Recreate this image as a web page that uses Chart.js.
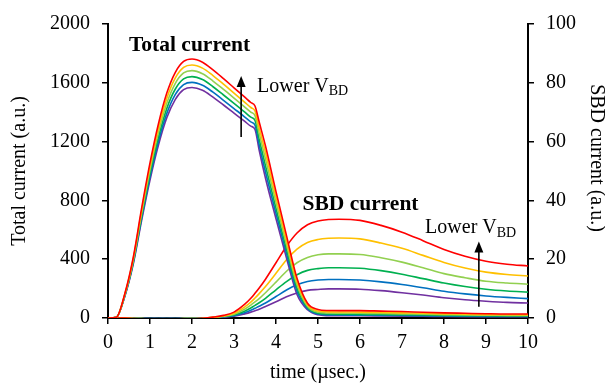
<!DOCTYPE html>
<html lang="en">
  <head>
    <meta charset="UTF-8" />
    <title>Total current and SBD current</title>
    <script src="https://cdn.jsdelivr.net/npm/chart.js"></script>
    <style>
      html,
      body {
        margin: 0;
        padding: 0;
        background: #fff;
      }
    </style>
  </head>
  <body>
    <canvas id="currentChart" width="605" height="385"></canvas>

    <script>
      // time axis (µsec.)
      const timeUs = [0, 0.2, 0.4, 0.6, 0.8, 1.0, 1.2, 1.4, 1.6, 1.8,
        2.0, 2.25, 2.5, 2.75, 3.0, 3.25, 3.4, 3.5, 3.6, 3.75,
        4.0, 4.25, 4.5, 4.75, 5.0, 5.25, 5.5,
        6, 6.5, 7, 7.5, 8, 8.5, 9, 9.5, 10];

      // total current (left axis), one curve per breakdown voltage, lowest V_BD first
      const totalRed = [0, 5, 165, 410, 745, 1055, 1320, 1530, 1670, 1745,
        1762, 1740, 1688, 1628, 1566, 1504, 1466, 1442, 1333, 1170,
        860, 560, 270, 100, 58, 51, 50,
        50, 47, 44, 39, 35, 32, 29, 27, 27];
      const totalYellow = [0, 5, 161, 401, 728, 1031, 1290, 1495, 1632, 1705,
        1721, 1700, 1649, 1591, 1530, 1469, 1432, 1409, 1293, 1125,
        822, 529, 248, 90, 48, 42, 41,
        40, 38, 35, 32, 28, 26, 23, 22, 21];
      const totalLtGreen = [0, 5, 158, 392, 712, 1008, 1261, 1461, 1595, 1667,
        1683, 1662, 1612, 1555, 1496, 1436, 1400, 1377, 1255, 1081,
        785, 499, 226, 80, 40, 34, 33,
        32, 31, 28, 26, 23, 20, 19, 18, 17];
      const totalGreen = [0, 5, 154, 382, 694, 983, 1230, 1426, 1556, 1626,
        1642, 1622, 1573, 1517, 1460, 1402, 1366, 1344, 1215, 1036,
        747, 468, 204, 72, 33, 27, 26,
        25, 24, 22, 20, 18, 16, 15, 14, 14];
      const totalBlue = [0, 5, 150, 373, 678, 960, 1201, 1392, 1520, 1588,
        1603, 1583, 1536, 1481, 1425, 1369, 1334, 1312, 1177, 993,
        711, 438, 182, 64, 27, 21, 20,
        19, 18, 17, 15, 14, 12, 11, 11, 10];
      const totalPurple = [0, 5, 147, 365, 663, 939, 1175, 1362, 1486, 1553,
        1568, 1549, 1502, 1449, 1394, 1339, 1305, 1283, 1141, 951,
        675, 408, 160, 56, 22, 16, 15,
        15, 14, 13, 12, 10, 9, 9, 8, 8];

      // SBD current (right axis)
      const sbdRed = [0, 0, 0, -0.2, -0.3, -0.4, -0.4, -0.4, -0.4, -0.3,
        -0.3, -0.1, 0.3, 0.9, 2.0, 4.6, 6.7, 8.4, 10.2, 13.2,
        18.8, 24.4, 28.9, 31.7, 33.0, 33.5, 33.6,
        33.2, 31.5, 29.2, 26.3, 23.3, 21.0, 19.3, 18.3, 17.7];
      const sbdYellow = [0, 0, 0, -0.2, -0.2, -0.3, -0.3, -0.3, -0.3, -0.2,
        -0.2, -0.1, 0.2, 0.7, 1.6, 3.7, 5.4, 6.8, 8.3, 10.7,
        15.2, 19.8, 23.4, 25.7, 26.7, 27.1, 27.2,
        26.9, 25.5, 23.7, 21.3, 18.9, 17.0, 15.6, 14.8, 14.3];
      const sbdLtGreen = [0, 0, 0, -0.1, -0.2, -0.3, -0.3, -0.3, -0.3, -0.2,
        -0.2, -0.1, 0.2, 0.6, 1.3, 3.0, 4.4, 5.5, 6.6, 8.6,
        12.2, 15.9, 18.8, 20.6, 21.5, 21.8, 21.8,
        21.6, 20.5, 19.0, 17.1, 15.1, 13.7, 12.5, 11.9, 11.5];
      const sbdGreen = [0, 0, 0, -0.1, -0.2, -0.2, -0.2, -0.2, -0.2, -0.2,
        -0.2, -0.1, 0.1, 0.5, 1.0, 2.3, 3.4, 4.3, 5.2, 6.7,
        9.6, 12.4, 14.7, 16.2, 16.8, 17.1, 17.1,
        16.9, 16.1, 14.9, 13.4, 11.9, 10.7, 9.8, 9.2, 8.8];
      const sbdBlue = [0, 0, 0, -0.1, -0.1, -0.2, -0.2, -0.2, -0.2, -0.1,
        -0.1, -0.1, 0.1, 0.4, 0.8, 1.8, 2.6, 3.3, 4.0, 5.1,
        7.3, 9.5, 11.3, 12.4, 12.9, 13.1, 13.1,
        12.9, 12.3, 11.4, 10.3, 9.1, 8.2, 7.5, 7.0, 6.6];
      const sbdPurple = [0, 0, 0, -0.1, -0.1, -0.1, -0.1, -0.1, -0.1, -0.1,
        -0.1, -0.1, 0, 0.3, 0.6, 1.4, 2.0, 2.5, 3.0, 3.9,
        5.5, 7.2, 8.5, 9.4, 9.7, 9.9, 9.9,
        9.8, 9.3, 8.6, 7.8, 6.9, 6.2, 5.7, 5.3, 5.1];

      const lineColors = ["#FF0000", "#FFC000", "#92D050", "#00B050", "#0070C0", "#7030A0"];
      const totalSeries = [totalRed, totalYellow, totalLtGreen, totalGreen, totalBlue, totalPurple];
      const sbdSeries = [sbdRed, sbdYellow, sbdLtGreen, sbdGreen, sbdBlue, sbdPurple];

      const serif = "'Liberation Serif', 'Times New Roman', serif";

      function makeDataset(values, color, axis) {
        return {
          data: timeUs.map((t, i) => ({ x: t, y: values[i] })),
          yAxisID: axis,
          borderColor: color,
          borderWidth: 1.6,
          pointRadius: 0,
          fill: false,
          cubicInterpolationMode: "monotone",
        };
      }

      const datasets = [
        ...totalSeries.map((v, i) => makeDataset(v, lineColors[i], "yTotal")),
        ...sbdSeries.map((v, i) => makeDataset(v, lineColors[i], "ySbd")),
      ];

      // "Lower V_BD" with subscript
      function lowerVbd(ctx, px, py) {
        ctx.font = "20px " + serif;
        ctx.fillText("Lower V", px, py);
        const w = ctx.measureText("Lower V").width;
        ctx.font = "14px " + serif;
        ctx.fillText("BD", px + w, py + 3.5);
      }

      function upArrow(ctx, px, yBottom, yTip) {
        ctx.beginPath();
        ctx.moveTo(px, yBottom);
        ctx.lineTo(px, yTip + 8);
        ctx.stroke();
        ctx.beginPath();
        ctx.moveTo(px, yTip);
        ctx.lineTo(px - 4.5, yTip + 11);
        ctx.lineTo(px + 4.5, yTip + 11);
        ctx.closePath();
        ctx.fill();
      }

      const annotations = {
        id: "annotations",
        afterDraw(chart) {
          const { ctx } = chart;
          const { x, yTotal, ySbd } = chart.scales;
          ctx.save();
          ctx.fillStyle = "#000";
          ctx.strokeStyle = "#000";
          ctx.lineWidth = 1.6;
          ctx.textBaseline = "alphabetic";
          ctx.textAlign = "left";

          ctx.font = "bold 21.5px " + serif;
          ctx.fillText("Total current", x.getPixelForValue(0.5), yTotal.getPixelForValue(1815));
          ctx.fillText("SBD current", x.getPixelForValue(4.63), ySbd.getPixelForValue(36.9));

          lowerVbd(ctx, x.getPixelForValue(3.55), yTotal.getPixelForValue(1538));
          lowerVbd(ctx, x.getPixelForValue(7.55), ySbd.getPixelForValue(28.8));

          upArrow(ctx, x.getPixelForValue(3.17), yTotal.getPixelForValue(1231), yTotal.getPixelForValue(1647));
          upArrow(ctx, x.getPixelForValue(8.83), ySbd.getPixelForValue(3.8), ySbd.getPixelForValue(26));

          // right axis title, reading downwards
          ctx.translate(596, 158);
          ctx.rotate(Math.PI / 2);
          ctx.textAlign = "center";
          ctx.textBaseline = "middle";
          ctx.font = "20px " + serif;
          ctx.fillText("SBD current (a.u.)", 0, 0);
          ctx.restore();
        },
      };

      const tickFont = { family: serif, size: 20 };
      const axisGrid = {
        drawOnChartArea: false,
        drawTicks: true,
        tickLength: 6,
        color: "#000",
        lineWidth: 1.5,
      };
      const axisBorder = { display: true, color: "#000", width: 2 };
      const plainNumber = { useGrouping: false };

      new Chart(document.getElementById("currentChart"), {
        type: "line",
        data: { datasets },
        options: {
          responsive: false,
          animation: false,
          layout: { padding: { top: 18, left: 0, right: 0, bottom: 0 } },
          plugins: { legend: { display: false }, tooltip: { enabled: false } },
          scales: {
            x: {
              type: "linear",
              min: 0,
              max: 10,
              ticks: { stepSize: 1, color: "#000", font: tickFont, padding: 7, maxRotation: 0, format: plainNumber },
              grid: axisGrid,
              border: axisBorder,
              title: {
                display: true,
                text: "time (µsec.)",
                color: "#000",
                font: tickFont,
                padding: { top: 0, bottom: 0 },
              },
              afterFit(scale) {
                scale.height = 67;
              },
            },
            yTotal: {
              type: "linear",
              position: "left",
              min: 0,
              max: 2000,
              ticks: { stepSize: 400, color: "#000", font: tickFont, padding: 12, format: plainNumber },
              grid: axisGrid,
              border: axisBorder,
              title: {
                display: true,
                text: "Total current (a.u.)",
                color: "#000",
                font: tickFont,
                padding: { top: 8, bottom: 0 },
              },
              afterFit(scale) {
                scale.width = 108;
              },
            },
            ySbd: {
              type: "linear",
              position: "right",
              min: 0,
              max: 100,
              ticks: { stepSize: 20, color: "#000", font: tickFont, padding: 12, format: plainNumber },
              grid: axisGrid,
              border: axisBorder,
              afterFit(scale) {
                scale.width = 77;
              },
            },
          },
        },
        plugins: [annotations],
      });
    </script>
  </body>
</html>
